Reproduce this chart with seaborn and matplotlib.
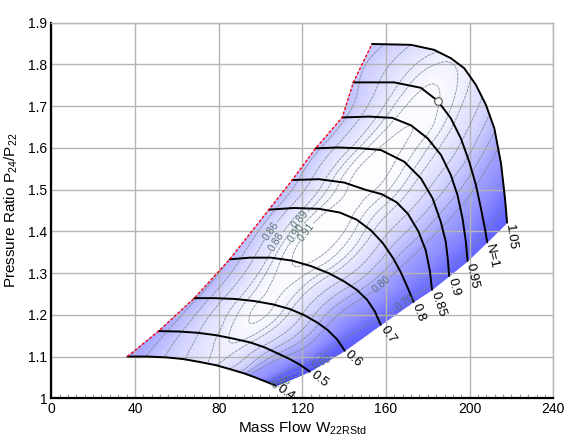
import numpy as np
import pandas as pd
import matplotlib
matplotlib.use('Agg')
import matplotlib.pyplot as plt
import matplotlib.tri as mtri
import seaborn as sns
from matplotlib.colors import LinearSegmentedColormap, Normalize
from matplotlib.ticker import MultipleLocator, FuncFormatter

# speed lines of the compressor map, 11 points each from surge to choke
speeds = [0.4, 0.5, 0.6, 0.7, 0.8, 0.85, 0.9, 0.95, 1.0, 1.05]
speed_labels = ['0.4', '0.5', '0.6', '0.7', '0.8', '0.85', '0.9', '0.95', 'N=1', '1.05']
label_rotation = [-35, -38, -42, -55, -70, -72, -75, -78, -78, -82]

mass_flow = [
    [36.4, 46.0, 55.0, 63.0, 71.0, 79.0, 86.0, 92.0, 97.5, 102.5, 107.5],
    [51.3, 61.0, 70.0, 79.0, 87.0, 95.0, 102.0, 108.0, 114.0, 119.0, 123.6],
    [68.4, 78.0, 88.0, 97.0, 106.0, 114.0, 121.0, 127.0, 132.0, 136.5, 140.3],
    [85.3, 95.0, 105.0, 115.0, 124.0, 133.0, 140.0, 146.0, 151.0, 154.7, 157.5],
    [104.0, 116.0, 128.0, 138.0, 146.0, 152.7, 158.5, 163.5, 167.0, 170.3, 173.2],
    [115.2, 128.0, 140.0, 150.0, 158.0, 165.0, 170.5, 175.5, 179.0, 181.0, 182.0],
    [126.4, 137.0, 148.0, 157.5, 168.7, 176.7, 182.3, 186.2, 188.6, 189.7, 190.2],
    [139.1, 152.0, 163.0, 172.0, 179.9, 186.3, 191.0, 194.2, 196.6, 198.2, 199.0],
    [144.4, 163.9, 176.7, 184.7, 191.0, 195.8, 199.8, 203.0, 205.4, 207.3, 208.4],
    [153.3, 171.9, 183.0, 191.0, 197.4, 203.0, 207.8, 211.8, 215.0, 216.9, 217.9],
]
pressure_ratio = [
    [1.100, 1.100, 1.098, 1.094, 1.087, 1.079, 1.069, 1.060, 1.050, 1.040, 1.030],
    [1.161, 1.160, 1.157, 1.151, 1.143, 1.134, 1.122, 1.108, 1.094, 1.080, 1.064],
    [1.240, 1.240, 1.238, 1.233, 1.225, 1.214, 1.199, 1.182, 1.164, 1.142, 1.114],
    [1.333, 1.337, 1.337, 1.330, 1.317, 1.299, 1.280, 1.260, 1.236, 1.208, 1.176],
    [1.452, 1.456, 1.454, 1.445, 1.428, 1.403, 1.372, 1.335, 1.303, 1.266, 1.231],
    [1.523, 1.525, 1.517, 1.500, 1.489, 1.470, 1.442, 1.400, 1.355, 1.305, 1.260],
    [1.599, 1.601, 1.599, 1.595, 1.567, 1.527, 1.479, 1.423, 1.375, 1.327, 1.293],
    [1.673, 1.675, 1.672, 1.654, 1.623, 1.583, 1.535, 1.487, 1.431, 1.375, 1.329],
    [1.757, 1.757, 1.744, 1.713, 1.671, 1.623, 1.567, 1.511, 1.455, 1.407, 1.374],
    [1.849, 1.847, 1.835, 1.815, 1.791, 1.751, 1.703, 1.647, 1.563, 1.479, 1.421],
]
efficiency = [
    [0.800, 0.822, 0.842, 0.858, 0.872, 0.880, 0.858, 0.825, 0.784, 0.692, 0.370],
    [0.808, 0.836, 0.859, 0.879, 0.892, 0.881, 0.855, 0.822, 0.784, 0.701, 0.503],
    [0.815, 0.847, 0.876, 0.897, 0.901, 0.883, 0.856, 0.825, 0.792, 0.731, 0.605],
    [0.822, 0.854, 0.885, 0.910, 0.906, 0.883, 0.855, 0.825, 0.790, 0.744, 0.664],
    [0.828, 0.867, 0.900, 0.916, 0.904, 0.884, 0.856, 0.824, 0.792, 0.745, 0.677],
    [0.830, 0.871, 0.905, 0.914, 0.902, 0.883, 0.859, 0.827, 0.790, 0.741, 0.677],
    [0.832, 0.864, 0.893, 0.912, 0.903, 0.877, 0.846, 0.809, 0.770, 0.721, 0.675],
    [0.834, 0.871, 0.897, 0.910, 0.897, 0.874, 0.846, 0.818, 0.781, 0.731, 0.671],
    [0.834, 0.875, 0.899, 0.901, 0.886, 0.863, 0.834, 0.801, 0.762, 0.711, 0.665],
    [0.830, 0.860, 0.877, 0.888, 0.886, 0.873, 0.851, 0.823, 0.780, 0.718, 0.650],
]

eta_levels = [0.4, 0.5, 0.6, 0.7, 0.8, 0.82, 0.84, 0.86, 0.88, 0.89, 0.90, 0.91]
eta_label_pos = {0.86: (108.0, 1.390), 0.88: (110.4, 1.367), 0.89: (120.0, 1.423),
                 0.90: (118.7, 1.391), 0.91: (124.8, 1.387), 0.80: (159.1, 1.266),
                 0.70: (170.0, 1.224), 0.60: (130.3, 1.077), 0.40: (114.0, 1.036)}

design_point = (184.7, 1.713)

sns.set_theme(style='whitegrid', rc={'grid.color': '#b4b4b4', 'grid.linewidth': 1.0})
plt.rcParams['font.family'] = ['Liberation Sans', 'DejaVu Sans']
plt.rcParams['mathtext.fontset'] = 'custom'
plt.rcParams['mathtext.rm'] = 'Liberation Sans'

W = np.array(mass_flow)
PR = np.array(pressure_ratio)
ETA = np.array(efficiency)
df = pd.DataFrame({'speed': np.repeat(speeds, W.shape[1]),
                   'W': W.ravel(), 'PR': PR.ravel()})

# triangulate the speed-line grid (PR scaled so cells are roughly square on screen)
nr, nc = W.shape
idx = np.arange(nr * nc).reshape(nr, nc)
tris = []
for i in range(nr - 1):
    for j in range(nc - 1):
        a, b, c, d = idx[i, j], idx[i, j + 1], idx[i + 1, j + 1], idx[i + 1, j]
        tris += [[a, b, c], [a, c, d]]
pr_scale = 240.0 / 0.9 * (375.6 / 502.0)
tri = mtri.Triangulation(W.ravel(), (PR.ravel() - 1.0) * pr_scale, np.array(tris))
tri_fine, eta_fine = mtri.UniformTriRefiner(tri).refine_field(ETA.ravel(), subdiv=3)
tri_fine = mtri.Triangulation(tri_fine.x, tri_fine.y / pr_scale + 1.0, tri_fine.triangles)

fig = plt.figure(figsize=(5.7, 4.4), dpi=100)
ax = fig.add_axes([0.090, 0.0948, 0.8807, 0.8536])
ax.set_xlim(0, 240)
ax.set_ylim(1.0, 1.9)

# efficiency shading: white at peak, blue where efficiency drops
cmap = LinearSegmentedColormap.from_list('eta', [
    (0.0, (0.22, 0.22, 0.95)), (0.263, (0.29, 0.29, 1.0)), (0.614, (0.42, 0.42, 1.0)),
    (0.789, (0.63, 0.63, 1.0)), (0.877, (0.83, 0.83, 1.0)), (0.965, (0.975, 0.975, 1.0)),
    (1.0, (1.0, 1.0, 1.0))])
ax.tripcolor(tri_fine, eta_fine, shading='gouraud', cmap=cmap,
             norm=Normalize(vmin=0.35, vmax=0.92), zorder=1)

# efficiency contours, one set per level so each can get its own label
for lev in eta_levels:
    cs = ax.tricontour(tri_fine, eta_fine, levels=[lev], colors='#7a8e8e',
                       linewidths=0.55, linestyles=[(0, (4, 1))], zorder=2)
    if lev in eta_label_pos:
        ax.clabel(cs, manual=[eta_label_pos[lev]], fontsize=7.5, fmt='%.2f',
                  colors='#56716f', inline=True, inline_spacing=1)

# speed lines
sns.lineplot(data=df, x='W', y='PR', units='speed', estimator=None, sort=False,
             color='black', linewidth=1.4, ax=ax, zorder=3, legend=False)

# surge line
ax.plot(W[:, 0], PR[:, 0], color='red', linewidth=1.0, dashes=(2, 1.4), zorder=4)

ax.plot(*design_point, 'o', mfc='white', mec='#505050', mew=0.8, ms=5.5, zorder=5)

for i, lab in enumerate(speed_labels):
    ax.annotate(lab, xy=(W[i, -1], PR[i, -1]), xytext=(1.5, -1.5), textcoords='offset points',
                rotation=label_rotation[i], rotation_mode='anchor', ha='left', va='center',
                fontsize=9.5, color='black', zorder=6)

ax.set_axisbelow('line')
ax.xaxis.set_major_locator(MultipleLocator(40))
ax.xaxis.set_minor_locator(MultipleLocator(4))
ax.yaxis.set_major_locator(MultipleLocator(0.1))
ax.yaxis.set_major_formatter(FuncFormatter(lambda v, p: f'{v:g}'))
ax.tick_params(axis='both', which='major', length=0, labelsize=10, pad=3, colors='black')
ax.tick_params(axis='x', which='minor', direction='in', length=3, width=0.6,
               color='#888888', bottom=True)
ax.grid(True, which='major')
ax.grid(False, which='minor')

for side in ['left', 'bottom']:
    ax.spines[side].set_color('black')
    ax.spines[side].set_linewidth(1.6)
for side in ['top', 'right']:
    ax.spines[side].set_color('#b4b4b4')
    ax.spines[side].set_linewidth(1.0)

ax.set_xlabel(r'Mass Flow W$_\mathregular{22RStd}$', fontsize=11, labelpad=2, color='black')
ax.set_ylabel(r'Pressure Ratio P$_\mathregular{24}$/P$_\mathregular{22}$', fontsize=11,
              labelpad=6, color='black')

fig.savefig('out.png', dpi=100, facecolor='white')
